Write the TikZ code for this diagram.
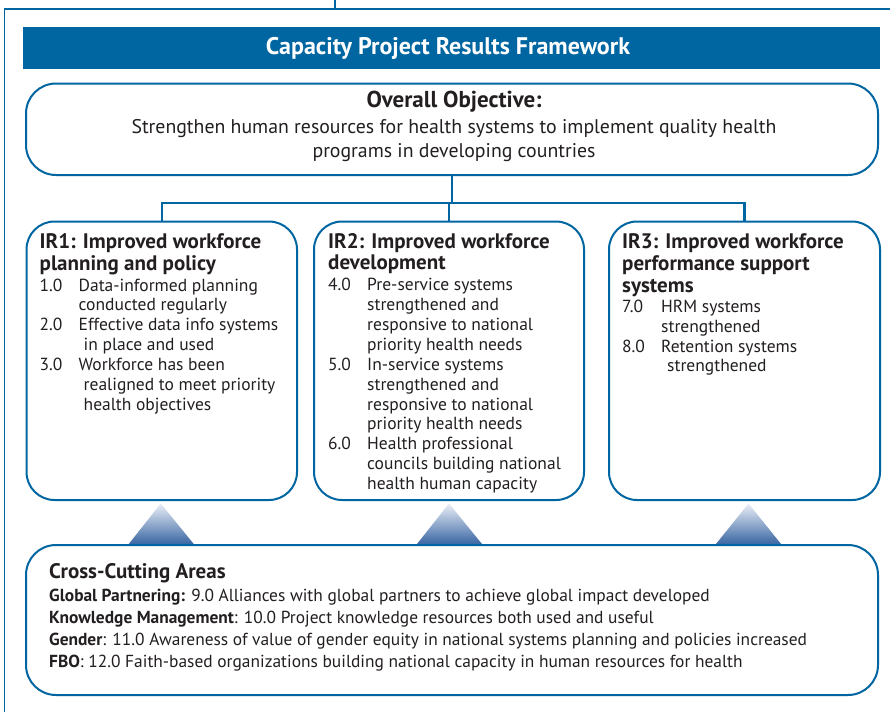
\documentclass[tikz,border=0pt]{standalone}
\usepackage{fontspec}
\setmainfont{PT Sans}
\newfontfamily\titlefont{PT Sans}
\usetikzlibrary{calc}
\definecolor{capblue}{RGB}{0,102,161}
\definecolor{ink}{RGB}{35,31,32}
\definecolor{triTop}{RGB}{234,238,246}
\definecolor{triBottom}{RGB}{58,103,163}

% numbered result line and heading font
\newcommand{\itemno}[1]{\makebox[39pt][l]{#1}}
\newcommand{\hdr}{\fontsize{21}{23}\selectfont\bfseries}

\begin{document}
\begin{tikzpicture}[x=1pt,y=-1pt,
  frameline/.style={draw=capblue, line width=1.4pt},
  panel/.style={draw=capblue, line width=2pt, fill=white, rounded corners=30pt,
                anchor=north west, inner sep=0pt},
  link/.style={draw=capblue, line width=2.2pt},
  txt/.style={text=ink, inner sep=0pt, anchor=base west},
  wedge/.style={top color=triTop, bottom color=triBottom, draw=none}]

\useasboundingbox (0,0) rectangle (890,712);
\fill[white] (0,0) rectangle (890,712);

% outer frame
\coordinate (fTL) at (4.5,9);
\coordinate (fBL) at (4.5,712);
\coordinate (fTR) at (890,9);
\coordinate (stub) at (335,0);
\draw[frameline] (fBL) -- (fTL) -- (fTR);
\draw[frameline] (stub) -- (stub |- fTL);

% title bar
\node[fill=capblue, anchor=north west, minimum width=857pt, minimum height=42pt,
      inner sep=0pt] (title) at (23,27) {};
\node[text=white, inner sep=0pt, anchor=base,
      font=\titlefont\bfseries\fontsize{24}{28}\selectfont] (titletext) at (448,54)
  {Capacity Project Results Framework};

% overall objective
\node[panel, minimum width=852pt, minimum height=91.5pt] (obj) at (25,82.5) {};
\node[txt, anchor=base, font=\fontsize{19.8}{24}\selectfont] (objtext) at (454,107)
  {\begin{tabular}[t]{@{}c@{}}
   {\fontsize{23}{24}\selectfont\bfseries Overall Objective:}\\[2pt]
   Strengthen human resources for health systems to implement quality health\\
   programs in developing countries
   \end{tabular}};

% intermediate results
\node[panel, rounded corners=28pt, minimum width=270.5pt, minimum height=278.5pt] (ir1) at (25.5,220.5) {};
\node[panel, rounded corners=28pt, minimum width=270pt, minimum height=278.5pt] (ir2) at (313,220.5) {};
\node[panel, rounded corners=28pt, minimum width=271pt, minimum height=278.5pt] (ir3) at (608,220.5) {};

% connectors from the objective to the results
\coordinate (bus) at (451,203);
\draw[link] (obj.south) -- (obj.south |- bus);
\draw[link] (ir1.north) |- (bus) -| (ir3.north);
\draw[link] (ir2.north) -- (ir2.north |- bus);

\node[txt, font=\fontsize{17.5}{19.85}\selectfont] (ir1text) at (39.5,248.3)
  {\begin{tabular}[t]{@{}l@{}}
   {\hdr IR1: Improved workforce}\\[1.0pt]
   {\hdr planning and policy}\\[1.1pt]
   \itemno{1.0}Data-informed planning\\
   \hspace{39pt}conducted regularly\\
   \itemno{2.0}Effective data info systems\\
   \hspace{44pt}in place and used\\
   \itemno{3.0}Workforce has been\\
   \hspace{44pt}realigned to meet priority\\
   \hspace{44pt}health objectives
   \end{tabular}};

\node[txt, font=\fontsize{17.5}{19.85}\selectfont] (ir2text) at (328,248.3)
  {\begin{tabular}[t]{@{}l@{}}
   {\hdr IR2: Improved workforce}\\[1.0pt]
   {\hdr development}\\[1.1pt]
   \itemno{4.0}Pre-service systems\\
   \hspace{39pt}strengthened and\\
   \hspace{39pt}responsive to national\\
   \hspace{39pt}priority health needs\\
   \itemno{5.0}In-service systems\\
   \hspace{39pt}strengthened and\\
   \hspace{39pt}responsive to national\\
   \hspace{39pt}priority health needs\\
   \itemno{6.0}Health professional\\
   \hspace{39pt}councils building national\\
   \hspace{39pt}health human capacity
   \end{tabular}};

\node[txt, font=\fontsize{17.5}{19.85}\selectfont] (ir3text) at (622,248.5)
  {\begin{tabular}[t]{@{}l@{}}
   {\hdr IR3: Improved workforce}\\[1.2pt]
   {\hdr performance support}\\[1.9pt]
   {\hdr systems}\\[0.3pt]
   \itemno{7.0}HRM systems\\
   \hspace{39pt}strengthened\\
   \itemno{8.0}Retention systems\\
   \hspace{45pt}strengthened
   \end{tabular}};

% wedges carrying the cross-cutting areas up to each result
\shade[wedge] ($(ir1.south)+(-33,43)$) -- ($(ir1.south)+(-1,2.5)$) -- ($(ir1.south)+(32,43)$) -- cycle;
\shade[wedge] ($(ir2.south)+(-32,43)$) -- ($(ir2.south)+(0,2.5)$) -- ($(ir2.south)+(33,43)$) -- cycle;
\shade[wedge] ($(ir3.south)+(-28.5,43)$) -- ($(ir3.south)+(4,2.5)$) -- ($(ir3.south)+(36.5,43)$) -- cycle;

% cross-cutting areas
\node[panel, minimum width=852pt, minimum height=150pt] (cross) at (25,544) {};
\node[txt, font=\fontsize{17.4}{22.2}\selectfont] (crosstext) at (49,578.5)
  {\begin{tabular}[t]{@{}l@{}}
   {\hdr Cross-Cutting Areas}\\[0.3pt]
   \textbf{Global Partnering:} 9.0 Alliances with global partners to achieve global impact developed\\
   \textbf{Knowledge Management}: 10.0 Project knowledge resources both used and useful\\
   \textbf{Gender}: 11.0 Awareness of value of gender equity in national systems planning and policies increased\\
   \textbf{FBO}: 12.0 Faith-based organizations building national capacity in human resources for health
   \end{tabular}};

\end{tikzpicture}
\end{document}
